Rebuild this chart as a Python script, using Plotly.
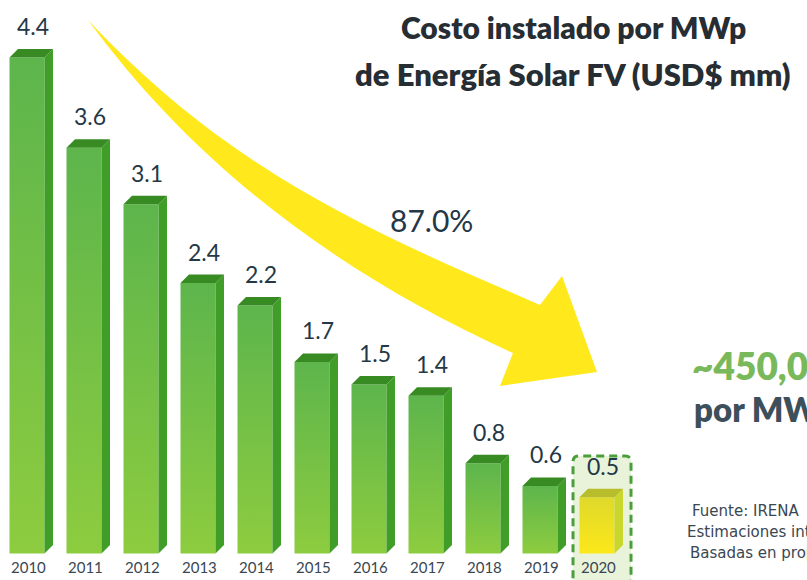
import plotly.graph_objects as go

# ---------------- data ----------------
years = ["2010", "2011", "2012", "2013", "2014", "2015", "2016", "2017", "2018", "2019", "2020"]
values = [4.4, 3.6, 3.1, 2.4, 2.2, 1.7, 1.5, 1.4, 0.8, 0.6, 0.5]
value_labels = ["4.4", "3.6", "3.1", "2.4", "2.2", "1.7", "1.5", "1.4", "0.8", "0.6", "0.5"]
highlight_year = "2020"
title_lines = ["Costo instalado por MWp", "de Energía Solar FV (USD$ mm)"]
reduction_label = "87.0%"
callout_value = "~450,000 USD"
callout_unit = "por MWp"
source_lines = ["Fuente: IRENA", "Estimaciones internas", "Basadas en propuestas"]

# ---------------- layout constants ----------------
W, H = 807, 580
PX_PER_CAT = 57.0
PX_PER_UNIT = 112.7
X0_PX = 27.0
BASE_PX = 553.5
x_range = [-X0_PX / PX_PER_CAT, (W - X0_PX) / PX_PER_CAT]
y_range = [-(H - BASE_PX) / PX_PER_UNIT, BASE_PX / PX_PER_UNIT]

HW = 17.5 / PX_PER_CAT
DX = 8.5 / PX_PER_CAT
DY = 8.5 / PX_PER_UNIT

FONT = "Lato"
DARK = "#243746"


def px(x, y):
    return x / W, 1 - y / H


fig = go.Figure()

for i, (yr, v) in enumerate(zip(years, values)):
    hl = yr == highlight_year
    if hl:
        front_cs = [[0, "#fce81a"], [1, "#dfd92b"]]
        side_c, top_c = "#c9d62c", "#b7bd2b"
    else:
        front_cs = [[0, "#8dcc3f"], [1, "#5db54c"]]
        side_c, top_c = "#3f9d28", "#378b22"
    xl, xr = i - HW, i + HW
    fig.add_trace(go.Scatter(
        x=[xl, xr, xr, xl, xl], y=[0, 0, v, v, 0], mode="lines",
        fill="toself", fillgradient=dict(type="vertical", colorscale=front_cs),
        line=dict(width=0), hoverinfo="skip", showlegend=False))
    fig.add_trace(go.Scatter(
        x=[xr, xr + DX, xr + DX, xr, xr], y=[0, DY, v + DY, v, 0], mode="lines",
        fill="toself", fillcolor=side_c, line=dict(width=0),
        hoverinfo="skip", showlegend=False))
    fig.add_trace(go.Scatter(
        x=[xl, xr, xr + DX, xl + DX, xl], y=[v, v, v + DY, v + DY, v], mode="lines",
        fill="toself", fillcolor=top_c, line=dict(width=0),
        hoverinfo="skip", showlegend=False))

annotations = []
for i, (yr, v, lab) in enumerate(zip(years, values, value_labels)):
    annotations.append(dict(x=i + 0.1, y=v + DY, xref="x", yref="y", text=lab,
                            showarrow=False, yanchor="bottom", yshift=7,
                            font=dict(family=FONT, size=23, color=DARK, weight=400)))
    annotations.append(dict(x=i + 0.02, y=0, xref="x", yref="y", text=yr,
                            showarrow=False, yanchor="top", yshift=-2,
                            font=dict(family=FONT, size=15, color="#3a4753")))

# highlight box around the last year
hi = years.index(highlight_year)
bx0, bx1 = hi - 24 / PX_PER_CAT, hi + 34 / PX_PER_CAT
by1 = (BASE_PX - 456) / PX_PER_UNIT
by0 = y_range[0] - 0.1
rx, ry = 6 / PX_PER_CAT, 6 / PX_PER_UNIT
box_path = (f"M {bx0},{by0} L {bx0},{by1 - ry} Q {bx0},{by1} {bx0 + rx},{by1} "
            f"L {bx1 - rx},{by1} Q {bx1},{by1} {bx1},{by1 - ry} L {bx1},{by0} Z")
shapes = [dict(type="path", path=box_path, xref="x", yref="y", layer="below",
               fillcolor="#e8f3da", line=dict(color="#4b9f3b", width=3, dash="8px,5px"))]

# curved arrow (paper coords)
arrow_pts = {
    "tip": (88, 20), "u1": (238, 180), "u2": (390, 239), "u3": (540, 305),
    "h1": (562, 276), "h2": (597, 372), "h3": (500, 386), "l3": (513, 353),
    "l2": (343, 276), "l1": (198, 170),
}
P = {k: px(*p) for k, p in arrow_pts.items()}
f = lambda k: f"{P[k][0]:.5f},{P[k][1]:.5f}"
arrow_path = (f"M {f('tip')} C {f('u1')} {f('u2')} {f('u3')} L {f('h1')} L {f('h2')} "
              f"L {f('h3')} L {f('l3')} C {f('l2')} {f('l1')} {f('tip')} Z")
shapes.append(dict(type="path", path=arrow_path, xref="paper", yref="paper",
                   layer="below", fillcolor="#ffe81b", line=dict(width=0)))


def text_px(x, y, text, size, color, weight=400, xanchor="center", family=FONT):
    ax, ay = px(x, y)
    annotations.append(dict(x=ax, y=ay, xref="paper", yref="paper", text=text,
                            showarrow=False, xanchor=xanchor, yanchor="middle",
                            font=dict(family=family, size=size, color=color, weight=weight)))


text_px(573, 27, title_lines[0], 30, "#262d33", 800)
text_px(573, 74, title_lines[1], 31, "#262d33", 800)
text_px(432, 220, reduction_label, 30, DARK, 400)
text_px(690, 365, callout_value, 37, "#7ab95b", 800, "left")
text_px(692, 409, callout_unit, 33, "#3d4f5b", 800, "left")
text_px(690, 511, source_lines[0], 15, "#3a4753", 400, "left", "DejaVu Sans")
text_px(685, 532, source_lines[1], 15, "#3a4753", 400, "left", "DejaVu Sans")
text_px(688, 553, source_lines[2], 15, "#3a4753", 400, "left", "DejaVu Sans")

fig.update_layout(
    width=W, height=H, margin=dict(l=0, r=0, t=0, b=0),
    paper_bgcolor="white", plot_bgcolor="white",
    xaxis=dict(range=x_range, visible=False, fixedrange=True),
    yaxis=dict(range=y_range, visible=False, fixedrange=True),
    annotations=annotations, shapes=shapes, showlegend=False,
)
fig.write_html("out.html", config={"displayModeBar": False},
               post_script="document.body.style.margin='0px';document.body.style.overflow='hidden';")
